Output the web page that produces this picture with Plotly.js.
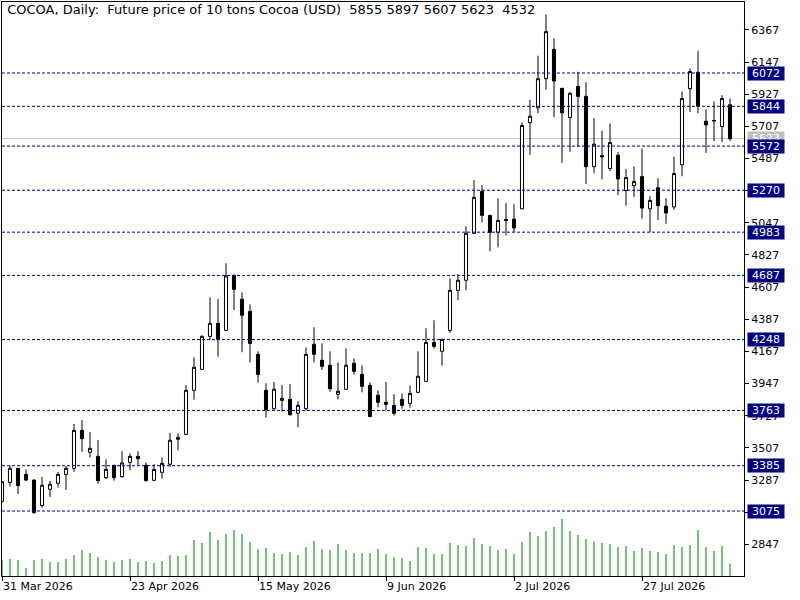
<!DOCTYPE html>
<html>
<head>
<meta charset="utf-8">
<script src="https://cdn.plot.ly/plotly-3.0.1.min.js"></script>
<style>html,body{margin:0;padding:0;background:#fff;}#chart{width:800px;height:600px;}</style>
</head>
<body>
<div id="chart"></div>
<script>
// Daily OHLC of COCOA (bar 0 = 31 Mar 2026, bar 91 = last bar)
const openP = [3139,3271,3367,3326,3287,3112,3224,3265,3326,3367,
  3627,3477,3449,3303,3388,3310,3408,3449,3388,3285,
  3340,3395,3566,3600,3901,4045,4270,4359,4311,4688,
  4524,4441,4147,3901,3775,3832,3839,3744,3775,4216,
  4106,4072,3874,3908,4086,4010,3935,3867,3819,3798,
  3839,3812,3887,3962,4229,4168,4311,4585,4654,4975,
  5262,5098,4982,5070,5072,5143,5732,5834,6033,6234,
  5967,5768,5980,5912,5431,5507,5418,5509,5268,5302,
  5363,5143,5287,5161,5156,5444,5965,6077,5742,5743,
  5706,5855];
const highP = [3280,3385,3370,3360,3290,3308,3281,3342,3383,3671,
  3696,3616,3561,3429,3390,3484,3470,3484,3408,3395,
  3442,3609,3607,3935,4127,4277,4537,4526,4770,4691,
  4571,4489,4168,3949,3958,3937,3944,3826,4195,4332,
  4222,4168,4092,4188,4120,4072,3956,3901,3958,3874,
  3880,3935,4168,4325,4380,4252,4667,4695,5023,5338,
  5304,5101,5215,5181,5174,5732,5889,6190,6473,6310,
  5970,5941,6080,6009,5763,5677,5727,5530,5415,5433,
  5556,5229,5352,5216,5501,5946,6103,6224,5823,5878,
  5920,5897];
const lowP = [3135,3242,3192,3281,3057,3098,3171,3235,3219,3344,
  3481,3440,3262,3294,3283,3303,3354,3388,3276,3283,
  3296,3379,3490,3593,3837,4042,4250,4131,4308,4451,
  4161,4092,3953,3714,3769,3755,3728,3648,3762,4092,
  4040,3892,3839,3905,4010,3887,3718,3785,3762,3728,
  3775,3782,3885,3960,4186,4070,4295,4517,4585,4972,
  5050,4852,4879,4960,4983,5140,5512,5797,5957,5771,
  5457,5533,5567,5313,5386,5344,5402,5237,5164,5224,
  5075,4983,5067,5041,5135,5365,5805,5797,5525,5606,
  5601,5607];
const closeP = [3276,3367,3249,3287,3064,3251,3258,3326,3367,3627,
  3570,3504,3283,3360,3303,3404,3449,3433,3283,3360,
  3401,3559,3579,3901,4058,4270,4359,4250,4683,4592,
  4414,4222,4010,3769,3908,3846,3734,3798,4147,4147,
  4065,3912,3894,4072,4031,3928,3721,3819,3805,3744,
  3798,3880,3997,4229,4202,4250,4585,4654,4975,5221,
  5098,4982,5064,5062,5012,5713,5776,6033,6355,6017,
  5800,5933,5912,5431,5585,5499,5596,5347,5357,5329,
  5148,5200,5164,5114,5384,5897,6082,5844,5716,5747,
  5897,5623];
const volumes = [5890,6260,5890,2940,5890,6260,5150,5150,6260,7730,
  9570,8460,6990,5890,5150,5890,6260,5150,5520,4780,
  5520,7730,7360,7730,13250,12140,16190,13250,15460,16930,
  15460,12510,9940,10300,8460,8100,8830,7730,10670,12880,
  9940,9570,11780,9570,8460,8460,8460,9940,8100,6990,
  6620,5520,10670,10300,8100,8100,12140,11410,11040,13980,
  11780,11040,9570,9940,8100,12510,16190,14720,16560,18030,
  20980,16560,15090,13620,12700,12140,11780,10670,11040,9200,
  10300,9200,8830,8100,11410,10670,11410,16930,10670,9200,
  11040,4532];

const dateTickBars = [0, 16, 32, 48, 64, 80];
const dateTickLabels = ["31 Mar 2026", "23 Apr 2026", "15 May 2026", "9 Jun 2026", "2 Jul 2026", "27 Jul 2026"];
const priceTicks = [6367,6147,5927,5707,5487,5267,5047,4827,4607,4387,4167,3947,3727,3507,3287,3067,2847];
const levels = [6072, 5844, 5572, 5270, 4983, 4687, 4248, 3763, 3385, 3075];
const lastPrice = 5623;
const headerText = "COCOA, Daily:\u00a0\u00a0Future price of 10 tons Cocoa (USD)\u00a0\u00a05855 5897 5607 5623\u00a0\u00a04532";

const barIdx = openP.map((_, i) => i);
const FONT = "DejaVu Sans, Verdana, sans-serif";

const traces = [
  {
    type: "bar", x: barIdx, y: volumes, yaxis: "y2",
    marker: {color: "#008000", line: {width: 0}}, width: 0.13,
    hoverinfo: "skip", showlegend: false
  },
  {
    type: "candlestick", x: barIdx, open: openP, high: highP, low: lowP, close: closeP,
    increasing: {line: {color: "#000000", width: 1}, fillcolor: "#ffffff"},
    decreasing: {line: {color: "#000000", width: 1}, fillcolor: "#000000"},
    whiskerwidth: 0, hoverinfo: "skip", showlegend: false
  }
];

const shapes = [{
  type: "line", xref: "paper", x0: 0, x1: 1, yref: "y", y0: lastPrice, y1: lastPrice,
  line: {color: "#c0c0c0", width: 1}, layer: "below"
}];
levels.forEach(v => shapes.push({
  type: "line", xref: "paper", x0: 0, x1: 1, yref: "y", y0: v, y1: v,
  line: {color: "#000080", width: 1, dash: "3px,2px"}
}));

const annotations = [{
  xref: "paper", x: 1, xanchor: "left", xshift: 3, yref: "y", y: lastPrice, yanchor: "middle",
  text: String(lastPrice), showarrow: false, bgcolor: "#c0c0c0", borderpad: 0,
  width: 36, height: 13, font: {family: FONT, size: 11, color: "#ffffff"}
}];
levels.forEach(v => annotations.push({
  xref: "paper", x: 1, xanchor: "left", xshift: 3, yref: "y", y: v, yanchor: "middle",
  text: String(v), showarrow: false, bgcolor: "#000080", borderpad: 0,
  width: 36, height: 13, font: {family: FONT, size: 11, color: "#ffffff"}
}));

const layout = {
  width: 800, height: 600,
  paper_bgcolor: "#ffffff", plot_bgcolor: "#ffffff",
  margin: {l: 2, r: 56, t: 2, b: 24, pad: 0},
  showlegend: false,
  boxgap: 0.45,
  title: {
    text: headerText, xref: "container", x: 0.009, xanchor: "left",
    yref: "container", y: 0.985, yanchor: "middle",
    font: {family: FONT, size: 13, color: "#000000"}
  },
  font: {family: FONT, size: 11, color: "#000000"},
  xaxis: {
    type: "linear", range: [0, 92.75], fixedrange: true,
    rangeslider: {visible: false},
    showgrid: false, zeroline: false,
    showline: true, linecolor: "#000000", linewidth: 1, mirror: true,
    tickmode: "array", tickvals: dateTickBars, ticktext: dateTickLabels,
    ticks: "outside", ticklen: 4, tickcolor: "#000000", tickwidth: 1,
    ticklabelposition: "outside right",
    tickfont: {family: FONT, size: 11, color: "#000000"}
  },
  yaxis: {
    range: [2630.5, 6557.8], side: "right", fixedrange: true,
    showgrid: false, zeroline: false,
    showline: true, linecolor: "#000000", linewidth: 1, mirror: true,
    tickmode: "array", tickvals: priceTicks, ticktext: priceTicks.map(String),
    ticks: "outside", ticklen: 4, tickcolor: "#000000", tickwidth: 1,
    tickfont: {family: FONT, size: 11, color: "#000000"}
  },
  yaxis2: {
    overlaying: "y", range: [0, 211232], visible: false, fixedrange: true
  },
  shapes: shapes,
  annotations: annotations
};

Plotly.newPlot("chart", traces, layout, {staticPlot: true, displayModeBar: false});
</script>
</body>
</html>
